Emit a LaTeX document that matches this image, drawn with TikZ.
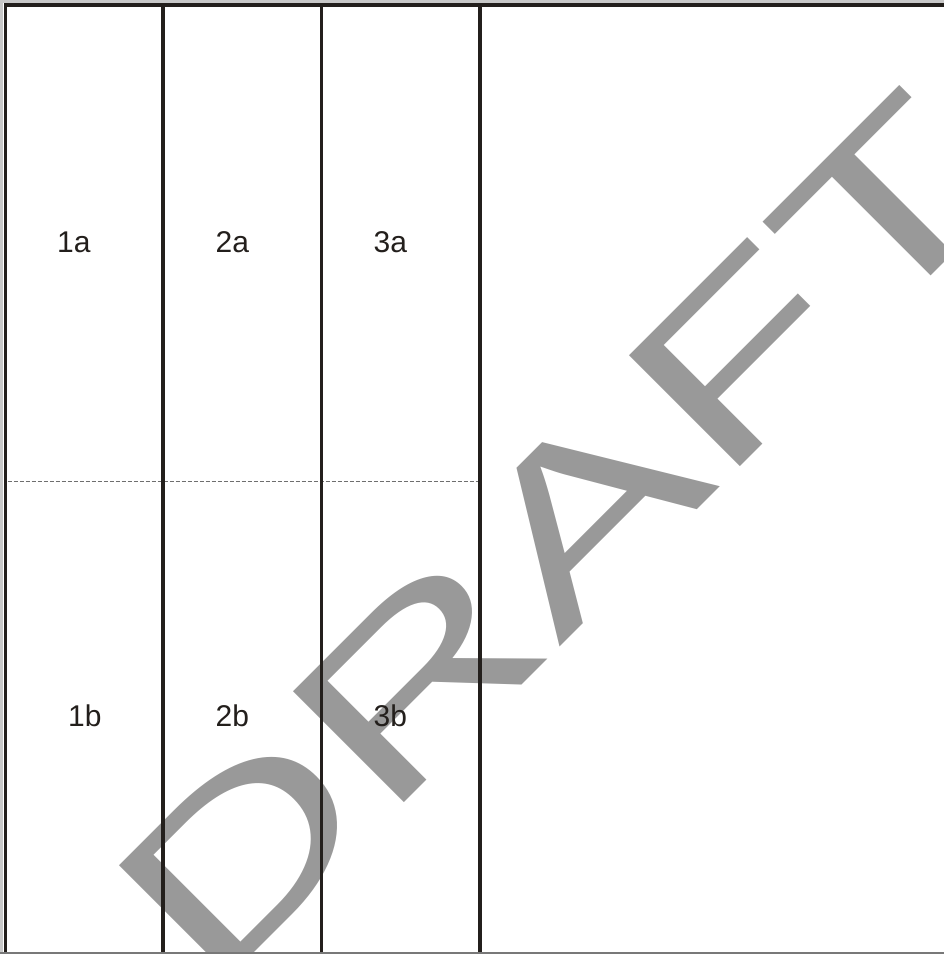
\documentclass[tikz,border=0pt]{standalone}
\usepackage{fontspec}
\setmainfont{Liberation Sans}
\definecolor{framec}{RGB}{35,31,28}
\definecolor{wmc}{RGB}{153,153,153}
\definecolor{edgec}{RGB}{200,200,200}
\definecolor{dashc}{RGB}{110,110,110}
\definecolor{bottomc}{RGB}{120,120,120}
\begin{document}
\begin{tikzpicture}[x=1pt,y=-1pt,
  frameline/.style={draw=framec, line width=3.5pt},
  edgeline/.style={draw=edgec, line width=2.6pt},
  rowsep/.style={draw=dashc, line width=1.2pt, dash pattern=on 4pt off 2pt},
  lbl/.style={font=\fontsize{30}{30}\selectfont, text=framec, inner sep=0pt, anchor=base west},
  wmark/.style={font=\fontsize{228}{228}\selectfont, text=wmc, inner sep=0pt, anchor=base west, rotate=45}]
\useasboundingbox (0,0) rectangle (944,954);
% watermark
\begin{scope}
\clip (0,0) rectangle (944,954);
\node[wmark] (wm) at (210,997) {\scalebox{1.5}[1]{DRAFT}};
\end{scope}
% coordinates
\coordinate (tl) at (0,1.3);
\coordinate (tr) at (944,1.3);
\coordinate (lt) at (1.5,0);
\coordinate (lb) at (1.5,954);
\coordinate (ft1) at (4,4.8);
\coordinate (ft2) at (944,4.8);
\coordinate (c0t) at (5.7,3);
\coordinate (c0b) at (5.7,954);
\coordinate (c1t) at (163,4.8);
\coordinate (c1b) at (163,954);
\coordinate (c2t) at (321.3,4.8);
\coordinate (c2b) at (321.3,954);
\coordinate (c3t) at (480,4.8);
\coordinate (c3b) at (480,954);
\coordinate (d1) at (7.5,481.7);
\coordinate (d2) at (478.5,481.7);
\coordinate (b1) at (0,953);
\coordinate (b2) at (944,953);
% light outer edge
\draw[edgeline] (tl) -- (tr);
\draw[edgeline] (lt) -- (lb);
% dashed row separator
\draw[rowsep] (d1) -- (d2);
% frame and columns
\draw[frameline] (ft1) -- (ft2);
\draw[frameline] (c0t) -- (c0b);
\draw[frameline] (c1t) -- (c1b);
\draw[frameline] (c2t) -- (c2b);
\draw[frameline] (c3t) -- (c3b);
\draw[draw=bottomc, line width=2pt] (b1) -- (b2);
% labels
\node[lbl] (l1a) at (57,252) {1a};
\node[lbl] (l2a) at (215.5,252) {2a};
\node[lbl] (l3a) at (373.5,252) {3a};
\node[lbl] (l1b) at (68,726) {1b};
\node[lbl] (l2b) at (215.5,726) {2b};
\node[lbl] (l3b) at (373.5,726) {3b};
\end{tikzpicture}
\end{document}
